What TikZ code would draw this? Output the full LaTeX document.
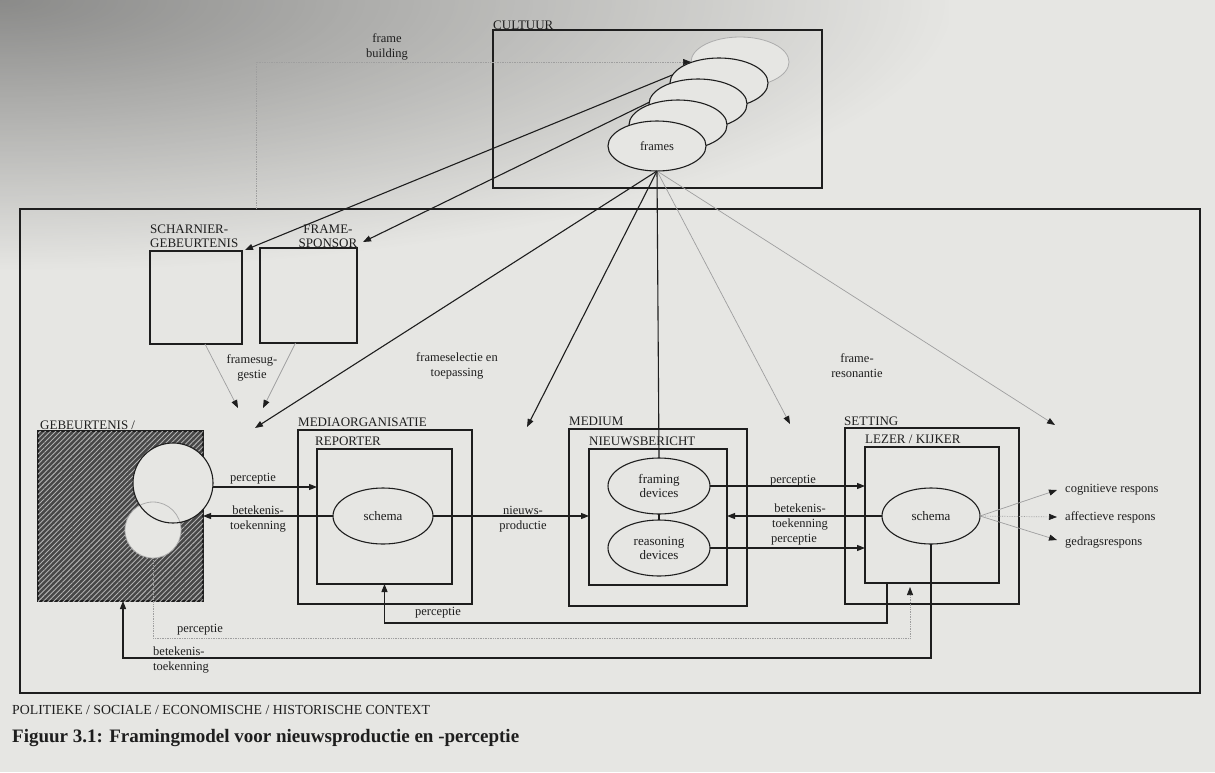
\documentclass[tikz,border=0pt]{standalone}
\usepackage{fontspec}
\setmainfont{Liberation Serif}
\usetikzlibrary{shapes.geometric,arrows.meta,patterns.meta,fadings,calc}
\definecolor{paper}{RGB}{230,230,227}
\definecolor{ink}{RGB}{30,30,30}
\tikzfading[name=vig, inner color=transparent!0, outer color=transparent!100]
\begin{document}
\begin{tikzpicture}[x=1pt,y=-1pt,
  bx/.style={draw=ink, line width=1.5pt, rectangle, inner sep=0pt, outer sep=0pt},
  el/.style={ellipse, draw=ink, line width=1.1pt, fill=paper, inner sep=0pt, outer sep=0pt},
  capl/.style={font=\fontsize{13}{14}\selectfont, text=ink, inner sep=0pt},
  lbl/.style={font=\fontsize{12.5}{15}\selectfont, text=ink, inner sep=0pt},
  arr/.style={draw=ink, line width=1.1pt, -{Triangle[length=8pt,width=6pt]}},
  garr/.style={draw=gray!75, line width=0.7pt, -{Triangle[length=8pt,width=6pt,color=ink]}},
  darr/.style={garr, densely dotted},
  ln/.style={draw=ink, line width=1.1pt}]
\useasboundingbox (0,0) rectangle (1215,772);
\fill[paper] (0,0) rectangle (1215,772);
\fill[black!75, path fading=vig, fill opacity=0.55] (-950,-270) rectangle (950,270);

% outer context and culture boxes
\node[bx, line width=1.3pt, minimum width=1180pt, minimum height=484pt] (ctx) at (610,451) {};
\node[bx, minimum width=329pt, minimum height=158pt] (cult) at (657.5,109) {};
\node[capl, anchor=west] (lcult) at (493,25) {CULTUUR};

% frames stack
\node[el, draw=gray!65, line width=0.8pt, minimum width=98pt, minimum height=50pt] (e5) at (740,62) {};
\node[el, minimum width=98pt, minimum height=50pt] (e4) at (719,83) {};
\node[el, minimum width=98pt, minimum height=50pt] (e3) at (698,104) {};
\node[el, minimum width=98pt, minimum height=50pt] (e2) at (678,125) {};
\node[el, minimum width=98pt, minimum height=50pt, font=\fontsize{12.5}{14}\selectfont, text=ink] (fr) at (657,146) {frames};

% frame building
\coordinate (fb) at (256,209);
\draw[darr] (fb) |- (e5.west);
\node[lbl, align=center] (lfb) at (387,47) {frame\\building};

% scharnier / frame-sponsor
\node[bx, minimum width=92pt, minimum height=93pt] (sch) at (196,297.5) {};
\node[bx, minimum width=97pt, minimum height=95pt] (fsp) at (308.5,295.5) {};
\node[capl, align=left, anchor=west] (lsch) at (150,236) {SCHARNIER-\\GEBEURTENIS};
\node[capl, align=center] (lfsp) at (328,236) {FRAME-\\SPONSOR};
\draw[arr] (e4.170) -- ($(sch.north east)+(3,-1)$);
\draw[arr] (e3.178) -- ($(fsp.north east)+(6,-6)$);

% framesuggestie
\coordinate (fs1) at (238,408);
\coordinate (fs2) at (263,408);
\draw[garr] ($(sch.south)+(9,0)$) -- (fs1);
\draw[garr] ($(fsp.south)+(-13,0)$) -- (fs2);
\node[lbl, align=center] (lfs) at (252,368) {framesug-\\gestie};

% fan from frames
\coordinate (t1) at (255,428);
\coordinate (t2) at (527,427);
\coordinate (t3) at (790,424);
\coordinate (t4) at (1055,425);
\draw[arr] (fr.south) -- (t1);
\draw[arr] (fr.south) -- (t2);
\draw[garr] (fr.south) -- (t3);
\draw[garr] (fr.south) -- (t4);
\node[lbl, align=center] (lsel) at (457,366) {frameselectie en\\toepassing};
\node[lbl, align=center] (lres) at (857,366) {frame-\\resonantie};

% gebeurtenis
\node[bx, fill=black!72, postaction={pattern={Lines[angle=45,distance=3.6pt,line width=0.9pt]}, pattern color=gray!60},
  minimum width=165pt, minimum height=170pt] (geb) at (120.5,516) {};
\node[capl, anchor=west] (lgeb) at (40,425) {GEBEURTENIS /};
\node[circle, fill=paper, minimum size=56pt, inner sep=0pt] (c2) at (153,530) {};
\node[circle, fill=paper, minimum size=80pt, inner sep=0pt] (c1) at (173,483) {};
\draw[gray!65, line width=0.8pt] (c2.center) circle[radius=28pt];
\draw[ink, line width=1.1pt] (c1.center) circle[radius=40pt];

% mediaorganisatie
\node[bx, minimum width=174pt, minimum height=174pt] (mo) at (385,517) {};
\node[bx, minimum width=135pt, minimum height=135pt] (rep) at (384.5,516.5) {};
\node[capl, anchor=west] (lmo) at (298,422) {MEDIAORGANISATIE};
\node[capl, anchor=west] (lrep) at (315,441) {REPORTER};
\node[el, minimum width=100pt, minimum height=56pt, font=\fontsize{13}{14}\selectfont, text=ink] (rsch) at (383,516) {schema};

% medium
\node[bx, minimum width=178pt, minimum height=177pt] (med) at (658,517.5) {};
\node[bx, minimum width=138pt, minimum height=136pt] (nb) at (658,517) {};
\node[capl, anchor=west] (lmed) at (569,421) {MEDIUM};
\node[capl, anchor=west] (lnb) at (589,441) {NIEUWSBERICHT};
\node[el, minimum width=102pt, minimum height=56pt, align=center, font=\fontsize{13}{14}\selectfont, text=ink] (fd) at (659,486) {framing\\devices};
\node[el, minimum width=102pt, minimum height=56pt, align=center, font=\fontsize{13}{14}\selectfont, text=ink] (rd) at (659,548) {reasoning\\devices};
\draw[ln] (fd.south) -- (rd.north);
\draw[ln] (fr.south) -- (fd.north);

% setting
\node[bx, minimum width=174pt, minimum height=176pt] (set) at (932,516) {};
\node[bx, minimum width=134pt, minimum height=136pt] (lez) at (932,515) {};
\node[capl, anchor=west] (lset) at (844,421) {SETTING};
\node[capl, anchor=west] (llez) at (865,439) {LEZER / KIJKER};
\node[el, minimum width=98pt, minimum height=56pt, font=\fontsize{13}{14}\selectfont, text=ink] (lsch2) at (931,516) {schema};

% horizontal flows
\draw[arr] (c1.east |- 0,487) -- (rep.west |- 0,487);
\node[lbl] (lp1) at (253,479) {perceptie};
\draw[arr] (rsch.west) -- (geb.east |- rsch.west);
\node[lbl, align=center] (lb1) at (258,519) {betekenis-\\toekenning};
\draw[arr] (rsch.east) -- (nb.west |- rsch.east);
\node[lbl, align=center] (lnp) at (523,519) {nieuws-\\productie};
\draw[arr] (fd.east) -- (lez.west |- fd.east);
\node[lbl] (lp2) at (793,481) {perceptie};
\draw[arr] (lsch2.west) -- (nb.east |- lsch2.west);
\node[lbl, align=center] (lb2) at (800,517) {betekenis-\\toekenning};
\draw[arr] (rd.east) -- (lez.west |- rd.east);
\node[lbl] (lp3) at (794,540) {perceptie};

% responses
\coordinate (r1) at (1057,490);
\coordinate (r2) at (1057,517);
\coordinate (r3) at (1057,540);
\draw[garr] (lsch2.east) -- (r1);
\draw[darr] (lsch2.east) -- (r2);
\draw[garr] (lsch2.east) -- (r3);
\node[lbl, anchor=west] (lr1) at (1065,490) {cognitieve respons};
\node[lbl, anchor=west] (lr2) at (1065,517) {affectieve respons};
\node[lbl, anchor=west] (lr3) at (1065,543) {gedragsrespons};

% bottom loops
\coordinate (p1) at (887,623);
\draw[arr] (p1 |- lez.south) -- (p1) -| (rep.south);
\node[lbl] (lp4) at (438,613) {perceptie};
\coordinate (p2) at (910,638);
\draw[darr] (c2.south) |- (p2) -- ($(p2 |- lez.south)+(0,4)$);
\node[lbl] (lp5) at (200,630) {perceptie};
\coordinate (b1) at (123,658);
\draw[arr] (lsch2.south) |- (b1) -- (b1 |- geb.south);
\node[lbl, align=left, anchor=west] (lb3) at (153,660) {betekenis-\\toekenning};

% context and caption
\node[font=\fontsize{13.8}{15}\selectfont, text=ink, inner sep=0pt, anchor=west] (lctx) at (12,710) {POLITIEKE / SOCIALE / ECONOMISCHE / HISTORISCHE CONTEXT};
\node[font=\fontsize{19}{21}\selectfont\bfseries, text=ink, inner sep=0pt, anchor=west] (capt) at (12,738) {Figuur 3.1: Framingmodel voor nieuwsproductie en -perceptie};
\end{tikzpicture}
\end{document}
